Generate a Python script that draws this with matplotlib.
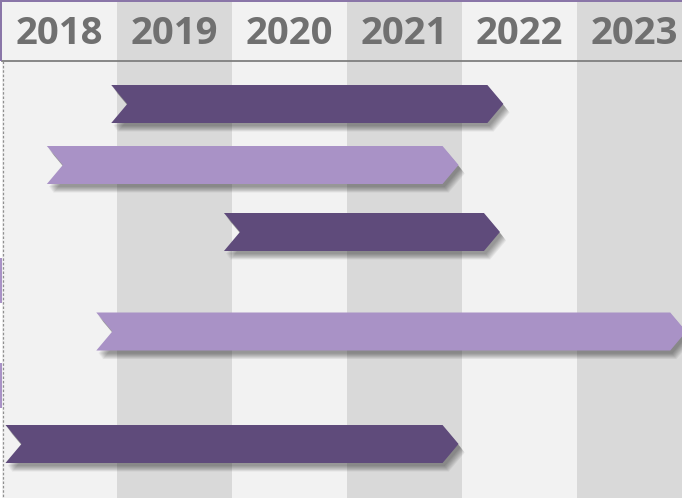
import matplotlib.pyplot as plt
from matplotlib.patches import Polygon, Rectangle

years = [2018, 2019, 2020, 2021, 2022, 2023]
starts = [2018.95, 2018.39, 2019.93, 2018.82, 2018.03]
ends = [2022.36, 2021.97, 2022.33, 2023.95, 2021.97]
colors = ["#5f4b7b", "#a992c6", "#5f4b7b", "#a992c6", "#5f4b7b"]

# layout (pixel units on the y axis)
row_y = [104, 165, 232, 331.5, 444]
bar_h = 38
header_h = 61
px_per_year = 115.0
notch = 16 / px_per_year

W, H = 682, 498
fig = plt.figure(figsize=(W / 100, H / 100), dpi=100)
ax = fig.add_axes([0, 0, 1, 1])
x0 = years[0] - 2 / px_per_year
ax.set_xlim(x0, x0 + W / px_per_year)
ax.set_ylim(H, 0)
ax.axis("off")

# column backgrounds
for i, yr in enumerate(years):
    c = "#f2f2f2" if i % 2 == 0 else "#d9d9d9"
    ax.add_patch(Rectangle((yr, 0), 1, H, facecolor=c, edgecolor="none", zorder=0))
    ax.text(yr + 0.5, 34, str(yr), ha="center", va="center", fontsize=27.5,
            fontweight="bold", family="Open Sans", color="#707070", zorder=5)

# header frame
ax.plot([years[0], x0 + W / px_per_year], [header_h, header_h], color="#7f7f7f", lw=1.3, zorder=4)
ax.add_patch(Rectangle((x0, 0), W / px_per_year, 1.5, facecolor="#8a76a8", edgecolor="none", zorder=4))
ax.add_patch(Rectangle((x0, 0), 2 / px_per_year, header_h, facecolor="#8a76a8", edgecolor="none", zorder=4))
for a, b in [(258, 303), (363, 408)]:
    ax.add_patch(Rectangle((x0, a), 2 / px_per_year, b - a, facecolor="#a992c6", edgecolor="none", zorder=4))
ax.plot([years[0] + 0.5 / px_per_year] * 2, [header_h, H], color="#909090", lw=0.9,
        ls=(0, (2, 1.5)), zorder=4)


def arrow(s, e, yc):
    t, b = yc - bar_h / 2, yc + bar_h / 2
    return [(s, t), (e - notch, t), (e, yc), (e - notch, b), (s, b), (s + notch, yc)]


for s, e, yc, c in zip(starts, ends, row_y, colors):
    # soft shadow
    for k in range(8):
        dx = (2 + k * 0.6) / px_per_year
        dy = 3 + k * 0.8
        pts = [(px + dx, py + dy) for px, py in arrow(s, e, yc)]
        ax.add_patch(Polygon(pts, closed=True, facecolor="black", edgecolor="none",
                             alpha=0.055, zorder=2))
    ax.add_patch(Polygon(arrow(s, e, yc), closed=True, facecolor=c, edgecolor="none", zorder=3))

fig.savefig("out.png", dpi=100)
